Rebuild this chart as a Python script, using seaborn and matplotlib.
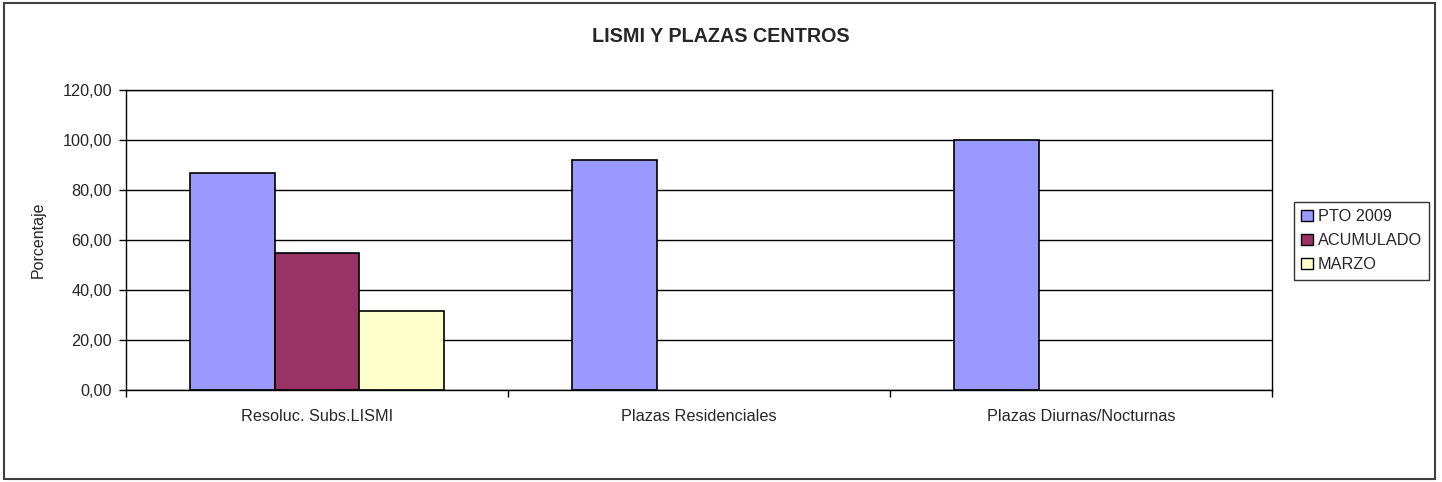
import numpy as np
import pandas as pd
import matplotlib
matplotlib.use("Agg")
import matplotlib.pyplot as plt
import matplotlib.patches as mpatches
from matplotlib.ticker import FixedLocator, FuncFormatter
import seaborn as sns

categories = ["Resoluc. Subs.LISMI", "Plazas Residenciales", "Plazas Diurnas/Nocturnas"]
series_names = ["PTO 2009", "ACUMULADO", "MARZO"]
pto_2009 = [87.0, 92.0, 100.0]
acumulado = [55.0, np.nan, np.nan]
marzo = [31.7, np.nan, np.nan]
yticks = [0, 20, 40, 60, 80, 100, 120]
colors = ["#9999FF", "#993366", "#FFFFCC"]

rows = []
for name, vals in zip(series_names, [pto_2009, acumulado, marzo]):
    for c, v in zip(categories, vals):
        rows.append({"cat": c, "serie": name, "valor": v})
df = pd.DataFrame(rows)

sns.set_theme(style="white")
plt.rcParams["font.family"] = ["Liberation Sans", "DejaVu Sans"]

W, H = 1442, 482
fig = plt.figure(figsize=(W / 100, H / 100), dpi=100)
ax = fig.add_axes([126 / W, 1 - 390 / H, (1272 - 126) / W, (390 - 90) / H])

sns.barplot(data=df, x="cat", y="valor", hue="serie", order=categories,
            hue_order=series_names, palette=colors, width=0.667, dodge=True,
            edgecolor="black", linewidth=1.2, errorbar=None, ax=ax, saturation=1)

ax.set_ylim(0, 120)
ax.set_xlim(-0.5, 2.5)
ax.yaxis.set_major_locator(FixedLocator(yticks))
ax.yaxis.set_major_formatter(FuncFormatter(lambda v, p: f"{v:.2f}".replace(".", ",")))
ax.grid(axis="y", color="black", linewidth=1.0)
ax.set_axisbelow(True)
for s in ax.spines.values():
    s.set_visible(True)
    s.set_color("black")
    s.set_linewidth(1.0)

ax.tick_params(axis="y", which="major", direction="out", length=5, width=1,
               color="black", labelsize=11.7, pad=5, left=True)
ax.set_xticks([0, 1, 2])
ax.set_xticklabels(categories)
ax.set_xticks([-0.5, 0.5, 1.5, 2.5], minor=True)
ax.tick_params(axis="x", which="major", length=0, labelsize=11.7, pad=14)
ax.tick_params(axis="x", which="minor", direction="out", length=5, width=1,
               color="black", bottom=True)
ax.set_xlabel("")
ax.set_ylabel("Porcentaje", fontsize=11.5, labelpad=12)

if ax.get_legend() is not None:
    ax.get_legend().remove()
handles = [mpatches.Patch(facecolor=c, edgecolor="black", linewidth=1.0) for c in colors]
leg = fig.legend(handles, series_names, loc="upper left",
                 bbox_to_anchor=(1294 / W, 1 - 202 / H), borderaxespad=0,
                 fontsize=11.7, frameon=True, fancybox=False, shadow=False,
                 handlelength=0.7, handleheight=0.7, handletextpad=0.3,
                 labelspacing=0.55, borderpad=0.45)
leg.get_frame().set_edgecolor("black")
leg.get_frame().set_linewidth(1.0)

fig.text(0.5, 1 - 37 / H, "LISMI Y PLAZAS CENTROS", ha="center", va="center",
         fontsize=14.2, fontweight="bold")

border = mpatches.Rectangle((4 / W, 3 / H), (1435 - 4) / W, (479 - 3) / H,
                            transform=fig.transFigure, fill=False,
                            edgecolor="#404040", linewidth=1.5)
fig.patches.append(border)

fig.savefig("out.png", dpi=100)
